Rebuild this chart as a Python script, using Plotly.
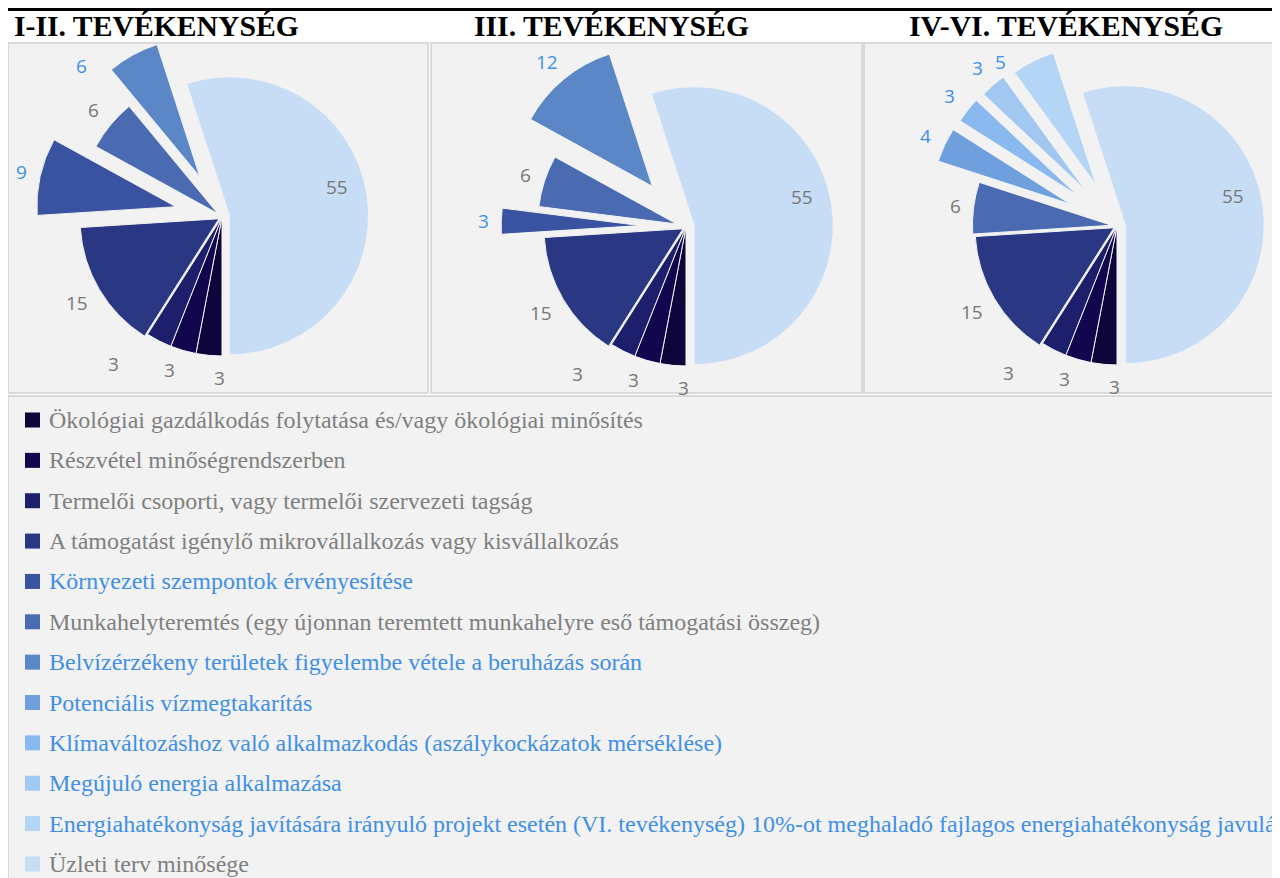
import math
import plotly.graph_objects as go

# ---------------- DATA ----------------
categories = [
    "Ökológiai gazdálkodás folytatása és/vagy ökológiai minősítés",
    "Részvétel minőségrendszerben",
    "Termelői csoporti, vagy termelői szervezeti tagság",
    "A támogatást igénylő mikrovállalkozás vagy kisvállalkozás",
    "Környezeti szempontok érvényesítése",
    "Munkahelyteremtés (egy újonnan teremtett munkahelyre eső támogatási összeg)",
    "Belvízérzékeny területek figyelembe vétele a beruházás során",
    "Potenciális vízmegtakarítás",
    "Klímaváltozáshoz való alkalmazkodás (aszálykockázatok mérséklése)",
    "Megújuló energia alkalmazása",
    "Energiahatékonyság javítására irányuló projekt esetén (VI. tevékenység) 10%-ot meghaladó fajlagos energiahatékonyság javulás",
    "Üzleti terv minősége",
]
chart_titles = ["I-II. TEVÉKENYSÉG", "III. TEVÉKENYSÉG", "IV-VI. TEVÉKENYSÉG"]
values_I_II = [3, 3, 3, 15, 9, 6, 6, 0, 0, 0, 0, 55]
values_III = [3, 3, 3, 15, 3, 6, 12, 0, 0, 0, 0, 55]
values_IV_VI = [3, 3, 3, 15, 0, 6, 0, 4, 3, 3, 5, 55]
all_values = [values_I_II, values_III, values_IV_VI]

# ---------------- STYLE ----------------
W, H = 1320, 878
OFF = 8  # page offset of the figure (body margin)
slice_colors = ["#0c063a", "#12064f", "#1d1e6c", "#2a3783", "#3a53a0", "#4a6bb2",
                "#5b87c6", "#6f9fdc", "#89b9ef", "#a2c8f2", "#b5d5f6", "#c7ddf6"]
BLUE, GRAY = "#3f8fe5", "#767676"
LEG_GRAY = "#7f7f7f"
is_blue = [False, False, False, False, True, False, True, True, True, True, True, False]

pulls = [
    [0, 0, 0, .025, .34, .04, .33, 0, 0, 0, 0, .055],
    [0, 0, 0, .025, .33, .07, .38, 0, 0, 0, 0, .06],
    [0, 0, 0, .025, 0, .04, 0, .37, .36, .35, .33, .06],
]
centers = [(222, 217), (686, 227), (1117, 226)]
R = 139
# label placement tweaks (angle shift in degrees, extra distance px)
common_tweaks = {0: (-4.4, 0), 1: (2.8, 0), 2: (9.5, 20), 11: (-6, 0)}
pie_tweaks = [{6: (-18, 0)}, {}, {10: (-9, 0)}]
GAP, YMIN = 12, 62

title_x = [12, 472, 907]
boxes = [(8, 43, 428, 393), (431, 43, 862, 393), (864, 43, W + 20, 393)]
legend_box = (8, 396, W + 20, H + 20)

SERIF = "Liberation Serif, Times New Roman, serif"
SANS = "Open Sans, Arial, sans-serif"


def fx(px):
    return (px - OFF) / W


def fy(py):
    return 1 - (py - OFF) / H


fig = go.Figure()
shapes, annotations = [], []

# top rule
shapes.append(dict(type="line", xref="paper", yref="paper", x0=0, x1=1,
                   y0=1 - 1.5 / H, y1=1 - 1.5 / H, line=dict(color="black", width=3)))
# panel boxes
for (x0, y0, x1, y1) in boxes + [legend_box]:
    shapes.append(dict(type="rect", xref="paper", yref="paper", layer="below",
                       x0=fx(x0), x1=fx(x1), y0=fy(y1), y1=fy(y0),
                       fillcolor="#f2f2f2", line=dict(color="#d9d9d9", width=2)))

for k, vals in enumerate(all_values):
    idx = [i for i, v in enumerate(vals) if v > 0]
    cx, cy = centers[k]
    maxp = max(pulls[k][i] for i in idx)
    half = R * (1 + maxp)
    fig.add_trace(go.Pie(
        labels=[categories[i] for i in idx],
        values=[vals[i] for i in idx],
        marker=dict(colors=[slice_colors[i] for i in idx],
                    line=dict(color="#f2f2f2", width=1)),
        pull=[pulls[k][i] for i in idx],
        sort=False, direction="clockwise", rotation=180,
        textinfo="none", hoverinfo="label+value", showlegend=False,
        domain=dict(x=[fx(cx - half), fx(cx + half)],
                    y=[fy(cy + half), fy(cy - half)]),
    ))
    # value labels
    total = sum(vals[i] for i in idx)
    ang = 180.0
    for i in idx:
        frac = vals[i] / total
        mid = ang + 180 * frac
        ang += 360 * frac
        a = math.radians(mid)
        p = pulls[k][i] * R
        ox, oy = cx + p * math.sin(a), cy - p * math.cos(a)
        shift, extra = pie_tweaks[k].get(i, common_tweaks.get(i, (0, 0)))
        a2 = math.radians(mid + shift)
        vx, vy = math.sin(a2), -math.cos(a2)
        txt = str(vals[i])
        if i == 11:
            d = 0.8 * R
        else:
            d = R + GAP + abs(vx) * 11 * len(txt) / 2 + abs(vy) * 10 + extra
        lx, ly = ox + d * vx, oy + d * vy
        ly = max(ly, YMIN)
        annotations.append(dict(x=fx(lx), y=fy(ly), xref="paper", yref="paper",
                                text=txt, showarrow=False, xanchor="center", yanchor="middle",
                                font=dict(family=SANS, size=19, color=BLUE if is_blue[i] else GRAY)))
    annotations.append(dict(x=fx(title_x[k]), y=fy(25.5), xref="paper", yref="paper",
                            text="<b>" + chart_titles[k] + "</b>", showarrow=False,
                            xanchor="left", yanchor="middle",
                            font=dict(family=SERIF, size=29.7, color="black")))

# legend
for j, cat in enumerate(categories):
    rc = 420 + j * 40.36
    shapes.append(dict(type="rect", xref="paper", yref="paper",
                       x0=fx(25), x1=fx(40), y0=fy(rc + 7.5), y1=fy(rc - 7.5),
                       fillcolor=slice_colors[j], line=dict(width=0)))
    annotations.append(dict(x=fx(47), y=fy(rc), xref="paper", yref="paper", text=cat,
                            showarrow=False, xanchor="left", yanchor="middle",
                            font=dict(family=SERIF, size=24,
                                      color=BLUE if is_blue[j] else LEG_GRAY)))

fig.update_layout(width=W, height=H, margin=dict(l=0, r=0, t=0, b=0),
                  paper_bgcolor="white", plot_bgcolor="white",
                  shapes=shapes, annotations=annotations, showlegend=False)
fig.write_html("out.html")
